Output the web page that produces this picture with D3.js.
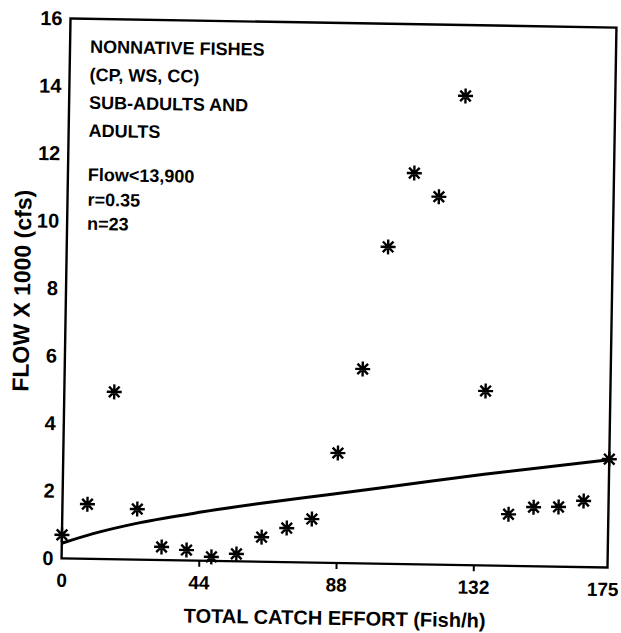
<!DOCTYPE html>
<html>
<head>
<meta charset="utf-8">
<script src="https://cdn.jsdelivr.net/npm/d3@7"></script>
<style>
  html, body { margin: 0; padding: 0; background: #fff; }
  svg { display: block; font-family: "Liberation Sans", Arial, Helvetica, sans-serif; }
</style>
</head>
<body>
<div id="chart"></div>
<script>
// catch effort (fish/h) and flow x 1000 (cfs), one entry per sample
const effort = [0, 8, 16, 24, 32, 40, 48, 56, 64, 72, 80, 88, 95.5, 103, 111, 119, 127, 135, 143, 151, 159, 167, 175]
const flow = [0.7, 1.62, 4.96, 1.5, 0.39, 0.31, 0.12, 0.22, 0.73, 1.01, 1.29, 3.26, 5.76, 9.39, 11.59, 10.9, 13.9, 5.17, 1.53, 1.75, 1.77, 1.96, 3.21]

// fitted curve
const fitEffort = [0, 10, 25, 45, 65, 85, 110, 135, 155, 175]
const fitFlow = [0.45, 0.75, 1.1, 1.45, 1.75, 2.02, 2.36, 2.7, 2.95, 3.19]

// ticks
const xTicks = [0, 44, 88, 132, 175]
const yTicks = [0, 2, 4, 6, 8, 10, 12, 14, 16]

// notes in the upper left corner
const notes = ["NONNATIVE FISHES", "(CP, WS, CC)", "SUB-ADULTS AND", "ADULTS", "", "Flow<13,900", "r=0.35", "n=23"]

const width = 621
const height = 633
const margin = { top: 23, right: 9, bottom: 70, left: 66 }

const svg = d3
  .select("#chart")
  .append("svg")
  .attr("width", width)
  .attr("height", height)

// the scanned page sits slightly tilted
const root = svg.append("g").attr("transform", "rotate(0.95 339 293)")

const x = d3.scaleLinear().domain([0, 175]).range([margin.left, width - margin.right])
const y = d3.scaleLinear().domain([0, 16]).range([height - margin.bottom, margin.top])

/*
 * ------------------------------------------------
 * Axes and frame
 * ------------------------------------------------
 */
const xAxis = root
  .append("g")
  .attr("transform", `translate(0 ${y(0)})`)
  .call(d3.axisBottom(x).tickValues(xTicks).tickSize(6).tickPadding(9))

xAxis.select(".domain").remove()
xAxis.selectAll(".tick line").attr("stroke-width", 2).filter((d) => d === 0 || d === 175).remove()
xAxis
  .selectAll(".tick text")
  .attr("font-size", 19)
  .attr("font-weight", "bold")
  .attr("fill", "#000")
  .attr("dx", (d) => (d === 175 ? -5 : 0))

const yAxis = root
  .append("g")
  .attr("transform", `translate(${x(0)} 0)`)
  .call(d3.axisLeft(y).tickValues(yTicks).tickSize(0).tickPadding(8))

yAxis.select(".domain").remove()
yAxis
  .selectAll(".tick text")
  .attr("font-size", 20)
  .attr("font-weight", "bold")
  .attr("fill", "#000")

root
  .append("rect")
  .attr("x", x(0))
  .attr("y", y(16))
  .attr("width", x(175) - x(0))
  .attr("height", y(0) - y(16))
  .attr("fill", "none")
  .attr("stroke", "#000")
  .attr("stroke-width", 2.4)

/*
 * ------------------------------------------------
 * Fitted curve
 * ------------------------------------------------
 */
const line = d3
  .line()
  .x((d) => x(d[0]))
  .y((d) => y(d[1]))
  .curve(d3.curveMonotoneX)

root
  .append("path")
  .datum(d3.zip(fitEffort, fitFlow))
  .attr("d", line)
  .attr("fill", "none")
  .attr("stroke", "#000")
  .attr("stroke-width", 3)

/*
 * ------------------------------------------------
 * Points, drawn as eight-armed asterisks
 * ------------------------------------------------
 */
const r = 7.5
const star = d3.range(4).map((i) => {
  const a = (i * Math.PI) / 4
  return `M${-r * Math.cos(a)},${-r * Math.sin(a)}L${r * Math.cos(a)},${r * Math.sin(a)}`
}).join("")

root
  .append("g")
  .selectAll("path")
  .data(d3.zip(effort, flow))
  .enter()
  .append("path")
  .attr("transform", (d) => `translate(${x(d[0])} ${y(d[1])})`)
  .attr("d", star)
  .attr("stroke", "#000")
  .attr("stroke-width", 2.4)

/*
 * ------------------------------------------------
 * Texts
 * ------------------------------------------------
 */
const noteY = [57, 85, 113, 141, 0, 185, 210, 234]
root
  .append("g")
  .selectAll("text")
  .data(notes)
  .enter()
  .append("text")
  .attr("x", 86)
  .attr("y", (d, i) => noteY[i])
  .attr("font-size", 18)
  .attr("font-weight", "bold")
  .text((d) => d)

root
  .append("text")
  .attr("x", 340)
  .attr("y", 625)
  .attr("text-anchor", "middle")
  .attr("font-size", 20)
  .attr("font-weight", "bold")
  .text("TOTAL CATCH EFFORT (Fish/h)")

root
  .append("text")
  .attr("transform", "translate(30 296) rotate(-90)")
  .attr("text-anchor", "middle")
  .attr("font-size", 23)
  .attr("font-weight", "bold")
  .text("FLOW X 1000 (cfs)")
</script>
</body>
</html>
